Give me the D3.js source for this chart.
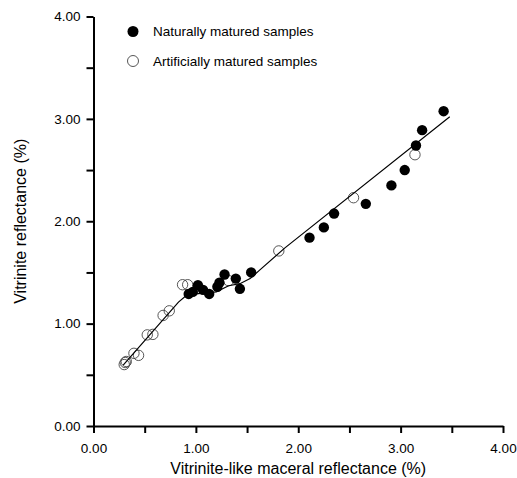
<!DOCTYPE html>
<html>
<head>
<meta charset="utf-8">
<script src="https://cdn.jsdelivr.net/npm/d3@7"></script>
<style>
    body { margin: 0; background: #fff; }
    text { font-family: "Liberation Sans", Arial, sans-serif; fill: #000; }
</style>
</head>
<body>
<script>
// naturally matured samples (filled circles)
var naturalX = [0.93, 0.97, 1.02, 1.07, 1.13, 1.21, 1.23, 1.28, 1.39, 1.43, 1.54,
    2.11, 2.25, 2.35, 2.66, 2.91, 3.04, 3.15, 3.21, 3.42];
var naturalY = [1.29, 1.31, 1.375, 1.33, 1.29, 1.36, 1.40, 1.48, 1.44, 1.34, 1.50,
    1.84, 1.94, 2.075, 2.17, 2.35, 2.50, 2.74, 2.89, 3.075];

// artificially matured samples (open circles)
var artificialX = [0.30, 0.31, 0.32, 0.395, 0.44, 0.525, 0.58, 0.68, 0.74, 0.87, 0.92, 1.32, 1.81, 2.54, 3.14];
var artificialY = [0.60, 0.62, 0.63, 0.71, 0.69, 0.89, 0.895, 1.08, 1.125, 1.38, 1.38, 1.42, 1.71, 2.23, 2.65];

// fitted trend line
var lineX = [0.29, 0.83, 0.90, 1.00, 1.20, 1.32, 1.43, 1.53, 1.62, 1.87, 3.48];
var lineY = [0.595, 1.21, 1.27, 1.29, 1.31, 1.37, 1.39, 1.44, 1.52, 1.74, 3.02];

var tickValues = [0, 0.5, 1, 1.5, 2, 2.5, 3, 3.5, 4];
var legendLabels = ["Naturally matured samples", "Artificially matured samples"];

var w = 517;
var h = 478;

var x = d3.scaleLinear().domain([0, 4]).range([93.5, 503]);
var y = d3.scaleLinear().domain([0, 4]).range([426, 16.5]);

var svg = d3.select("body")
    .append("svg")
    .attr("width", w)
    .attr("height", h);

var fmt = function (d) {
    return d % 1 === 0 ? d3.format(".2f")(d) : "";
};

var drawAxes = function () {
    var xAxis = svg.append("g")
        .attr("transform", "translate(0," + y(0) + ")")
        .call(d3.axisBottom(x).tickValues(tickValues).tickFormat(fmt).tickSize(7).tickSizeOuter(0).tickPadding(10));

    var yAxis = svg.append("g")
        .attr("transform", "translate(" + x(0) + ",0)")
        .call(d3.axisLeft(y).tickValues(tickValues).tickFormat(fmt).tickSize(7).tickSizeOuter(0).tickPadding(6));

    [xAxis, yAxis].forEach(function (a) {
        a.selectAll("path, line").attr("stroke", "#000").attr("stroke-width", 2);
        a.selectAll("text").style("font-size", "13.5px").attr("fill", "#000");
    });

    svg.append("text")
        .attr("x", x(2))
        .attr("y", 474)
        .attr("text-anchor", "middle")
        .style("font-size", "16px")
        .text("Vitrinite-like maceral reflectance (%)");

    svg.append("text")
        .attr("transform", "translate(26," + y(2) + ") rotate(-90)")
        .attr("text-anchor", "middle")
        .style("font-size", "16px")
        .text("Vitrinite reflectance (%)");
}

var drawData = function () {
    svg.append("g").selectAll("circle")
        .data(artificialX)
        .enter()
        .append("circle")
        .attr("cx", (d) => { return x(d) })
        .attr("cy", (d, i) => { return y(artificialY[i]) })
        .attr("r", 5.2)
        .style("fill", "none")
        .style("stroke", "#444")
        .style("stroke-width", 0.9);

    var line = d3.line()
        .x((d) => { return x(d) })
        .y((d, i) => { return y(lineY[i]) });

    svg.append("path")
        .datum(lineX)
        .attr("d", line)
        .style("fill", "none")
        .style("stroke", "#000")
        .style("stroke-width", 1.2);

    svg.append("g").selectAll("circle")
        .data(naturalX)
        .enter()
        .append("circle")
        .attr("cx", (d) => { return x(d) })
        .attr("cy", (d, i) => { return y(naturalY[i]) })
        .attr("r", 5.2)
        .style("fill", "#000");
}

var drawLegend = function () {
    var legend = svg.append("g");

    legend.append("circle")
        .attr("cx", 133)
        .attr("cy", 31.5)
        .attr("r", 5.5)
        .style("fill", "#000");

    legend.append("circle")
        .attr("cx", 133)
        .attr("cy", 61)
        .attr("r", 5.5)
        .style("fill", "none")
        .style("stroke", "#444")
        .style("stroke-width", 0.9);

    legend.selectAll("text")
        .data(legendLabels)
        .enter()
        .append("text")
        .attr("x", 153)
        .attr("y", (d, i) => { return 36 + i * 29.5 })
        .style("font-size", "13.5px")
        .text((d) => { return d });
}

drawAxes();
drawData();
drawLegend();
</script>
</body>
</html>
